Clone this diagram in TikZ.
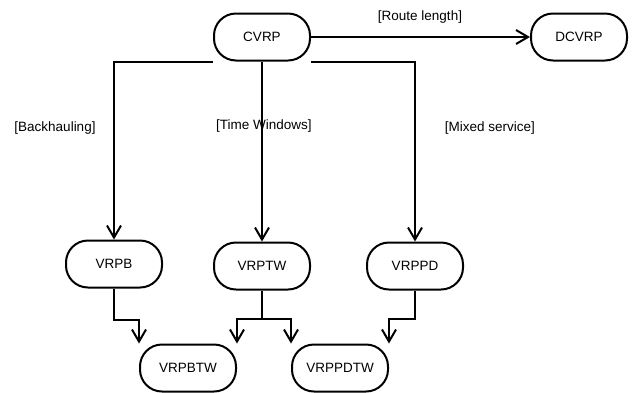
\documentclass[tikz,border=0pt]{standalone}
\usepackage{fontspec}
\setmainfont{Liberation Sans}
\usetikzlibrary{arrows.meta}
\begin{document}
\begin{tikzpicture}[x=1pt,y=-1pt,
 box/.style={draw,line width=2pt,rounded corners=22pt,minimum width=96pt,minimum height=47pt,inner sep=0pt,font=\fontsize{13.5}{15}\selectfont},
 lbl/.style={font=\fontsize{13.5}{15}\selectfont,inner sep=0pt},
 conn/.style={line width=2pt},
 arr/.style={conn,-{Straight Barb[length=12pt,width=14pt,line width=2pt]}}]
\useasboundingbox (0,0) rectangle (632,392);
\node[box] (cvrp) at (262,37) {CVRP};
\node[box] (dcvrp) at (579,37) {DCVRP};
\node[box] (vrpb) at (114,264) {VRPB};
\node[box] (vrptw) at (262,266) {VRPTW};
\node[box] (vrppd) at (415,266) {VRPPD};
\node[box] (vrpbtw) at (188,368) {VRPBTW};
\node[box] (vrppdtw) at (340,368) {VRPPDTW};
\node[lbl] (lroute) at (420,17) {[Route length]};
\node[lbl] (lback) at (55,128) {[Backhauling]};
\node[lbl] (ltime) at (264,126) {[Time Windows]};
\node[lbl] (lmixed) at (490,128) {[Mixed service]};
\draw[arr] (cvrp.east) -- (dcvrp.west);
\draw[arr] (cvrp.south west) -| (vrpb.north);
\draw[arr] (cvrp.south) -- (vrptw.north);
\draw[arr] (cvrp.south east) -| (vrppd.north);
\draw[arr] (vrpb.south) -- ++(0,31) -| (vrpbtw.north west);
\draw[conn] (vrptw.south) -- ++(0,28) coordinate (st);
\draw[arr] (st) -| (vrpbtw.north east);
\draw[arr] (st) -| (vrppdtw.north west);
\draw[arr] (vrppd.south) -- ++(0,28) -| (vrppdtw.north east);
\end{tikzpicture}
\end{document}
